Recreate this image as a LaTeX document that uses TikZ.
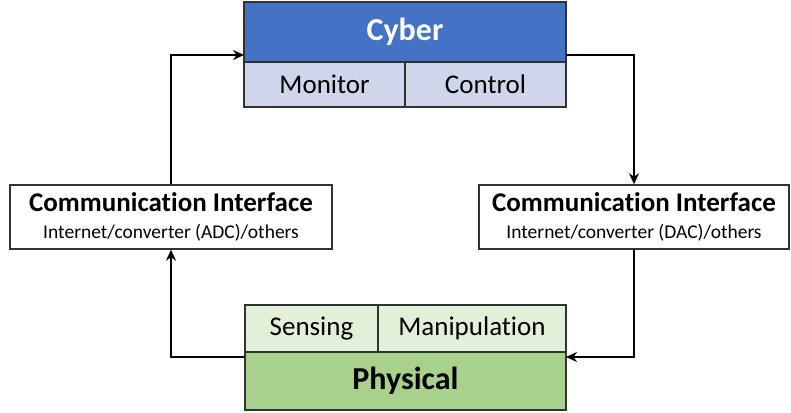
\documentclass[tikz,border=0pt]{standalone}
\usepackage{fontspec}
\setmainfont{Carlito}[Ligatures=NoCommon]
\usetikzlibrary{arrows.meta}
\definecolor{cyberblue}{RGB}{68,114,196}
\definecolor{cyberlight}{RGB}{207,213,234}
\definecolor{physgreen}{RGB}{169,209,142}
\definecolor{physlight}{RGB}{226,240,217}
\definecolor{edgegray}{RGB}{50,50,50}
\tikzset{
  cell/.style={draw=edgegray, line width=1.5pt, inner sep=0pt, anchor=center},
  link/.style={line width=2.5pt, -{Stealth[length=11pt,width=10pt]}},
}
\newcommand{\bigfont}{\fontsize{32}{36}\selectfont\bfseries}
\newcommand{\midfont}{\fontsize{27}{30}\selectfont}
\newcommand{\subfont}{\fontsize{19.5}{23}\selectfont}
\begin{document}
\begin{tikzpicture}[x=1pt,y=1pt,yscale=-1,xscale=1]
\useasboundingbox (0,0) rectangle (791,412);

%Shape: Cyber block
\node [cell, fill=cyberblue, text=white, minimum width=322pt, minimum height=60pt] (cyber) at (405,32) {\bigfont Cyber};
\node [cell, fill=cyberlight, minimum width=161pt, minimum height=45pt] (monitor) at (324.5,84.5) {\midfont Monitor};
\node [cell, fill=cyberlight, minimum width=161pt, minimum height=45pt] (control) at (485.5,84.5) {\midfont Control};

%Shape: Communication interfaces
\node [cell, fill=white, minimum width=322pt, minimum height=64pt, align=center, font=\subfont] (commL) at (171,217)
  {{\midfont\bfseries Communication Interface}\\[4pt]Internet/converter (ADC)/others};
\node [cell, fill=white, minimum width=310pt, minimum height=64pt, align=center, font=\subfont] (commR) at (634,217)
  {{\midfont\bfseries Communication Interface}\\[4pt]Internet/converter (DAC)/others};

%Shape: Physical block
\node [cell, fill=physlight, minimum width=133pt, minimum height=47pt] (sensing) at (311.5,328.5) {\midfont Sensing};
\node [cell, fill=physlight, minimum width=188pt, minimum height=47pt] (manip) at (472,328.5) {\midfont Manipulation};
\node [cell, fill=physgreen, minimum width=321pt, minimum height=58pt] (physical) at (405.5,381) {\bigfont Physical};

%Connection points
\coordinate (cyberIn) at (244,55);
\coordinate (cyberOut) at (566,55);
\coordinate (physIn) at (566,357);
\coordinate (physOut) at (245,357);

%Arrows
\draw [link] (commL.north) |- (cyberIn);
\draw [link] (cyberOut) -| (commR.north);
\draw [link] (commR.south) |- (physIn);
\draw [link] (physOut) -| (commL.south);

\end{tikzpicture}
\end{document}
